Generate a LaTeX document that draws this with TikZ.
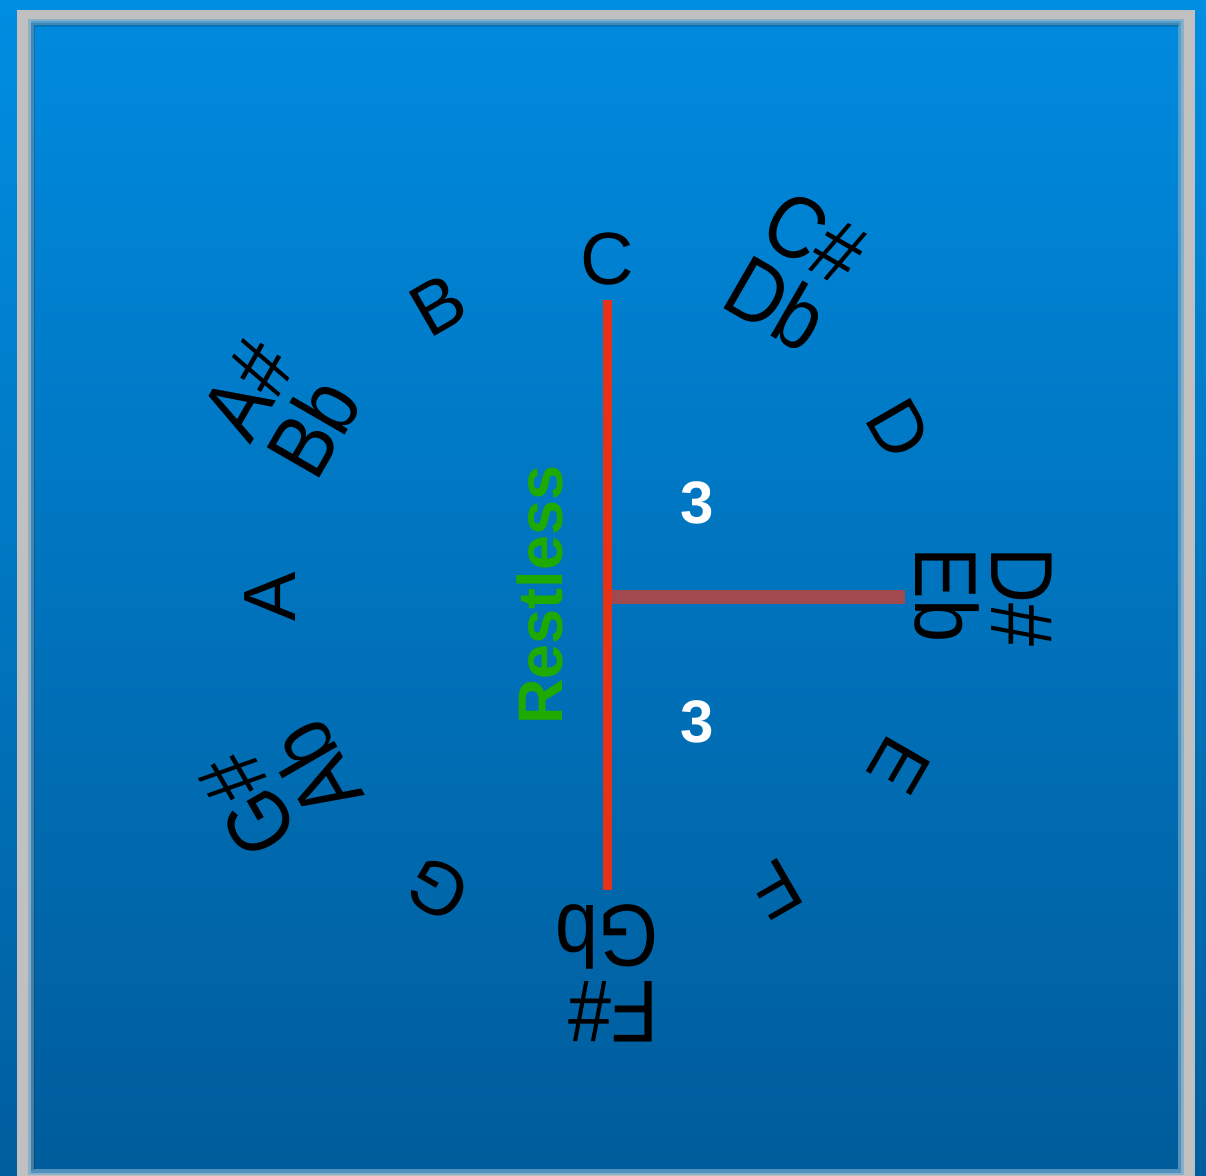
\documentclass[tikz,border=0pt]{standalone}
\usepackage{fontspec}
\usepackage{graphicx}
\setmainfont{Liberation Sans}
\usetikzlibrary{calc}
\definecolor{bgtop}{RGB}{0,142,226}
\definecolor{bgbot}{RGB}{0,94,158}
\definecolor{intop}{RGB}{0,138,222}
\definecolor{inbot}{RGB}{0,92,155}
\definecolor{framegray}{RGB}{192,192,192}
\definecolor{vred}{RGB}{232,50,24}
\definecolor{hred}{RGB}{160,74,80}
\definecolor{rgreen}{RGB}{30,170,0}
\newcommand{\nrw}[1]{\scalebox{0.88}[1]{#1}}
\begin{document}
\begin{tikzpicture}[x=0.5pt,y=0.5pt,
  keylabel/.style={inner sep=0pt, anchor=south, align=left, text=black,
    font=\fontsize{37}{40}\selectfont},
  twolabel/.style={inner sep=0pt, anchor=south, align=left, text=black,
    font=\fontsize{44}{38}\selectfont},
  numlabel/.style={text=white, font=\bfseries\fontsize{30}{36}\selectfont},
  moodlabel/.style={text=rgreen, rotate=90, font=\bfseries\fontsize{31.5}{36}\selectfont},
  vline/.style={draw=vred, line width=4.5},
  hline/.style={draw=hred, line width=7}]
\useasboundingbox (0,0) rectangle (1206,1175);
\fill[top color=bgtop,bottom color=bgbot] (0,0) rectangle (1206,1175);
\fill[framegray] (17,-10) rectangle (1195,1165);
\fill[top color=intop,bottom color=inbot] (31,3) rectangle (1181,1153);
\draw[framegray!60!intop, line width=3, opacity=0.7] (31,3) -- (31,1153) -- (1181,1153) -- (1181,3) -- cycle;
\draw[black, line width=2, opacity=0.15] (33,5) -- (33,1150) -- (1179,1150);
\coordinate (ctr) at (607,578);
\foreach \i/\t in {0/C, 2/D, 4/E, 5/F, 7/G, 9/A, 11/B}{
  \node[keylabel, rotate=-30*\i] (n\i) at ($(ctr)+({90-30*\i}:311)$) {\t};
}
\foreach \i/\a/\b in {1/C\#/Db, 3/D\#/Eb, 6/F\#/Gb, 8/G\#/Ab, 10/A\#/Bb}{
  \node[twolabel, rotate=-30*\i] (n\i) at ($(ctr)+({90-30*\i}:307)$) {\nrw{\a}\\\nrw{\b}};
}
\coordinate (vtop) at (607,875);
\coordinate (vbot) at (607,285);
\coordinate (hend) at (905,578);
\draw[hline] (ctr) -- (hend);
\draw[vline] (vtop) -- (vbot);
\node[numlabel] (c1) at (697,672) {3};
\node[numlabel] (c2) at (697,453) {3};
\node[moodlabel] (rest) at (540,580) {Restless};
\end{tikzpicture}
\end{document}
